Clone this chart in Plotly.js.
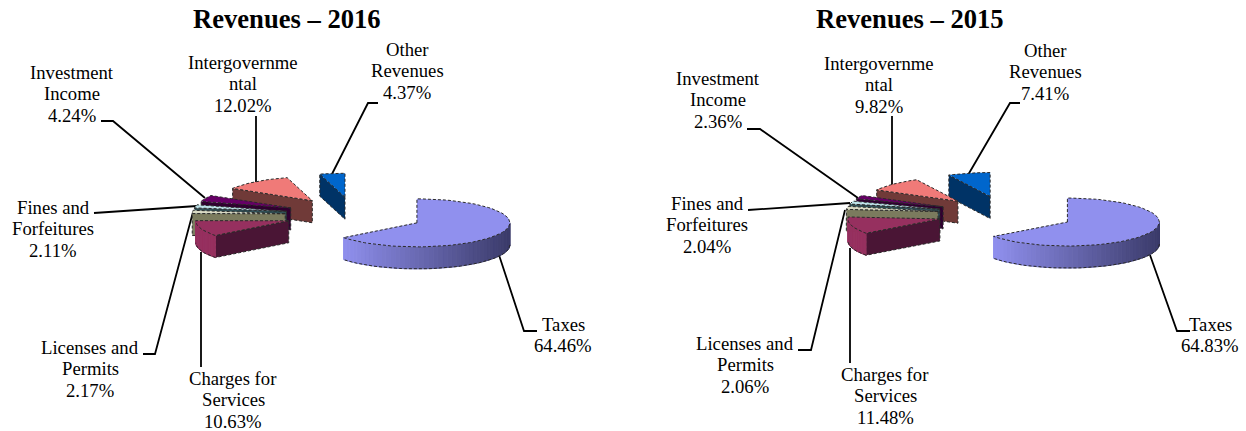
<!DOCTYPE html>
<html><head><meta charset="utf-8">
<script src="https://cdn.plot.ly/plotly-3.0.1.min.js"></script>
<style>html,body{margin:0;padding:0;background:#fff}#c{width:1246px;height:431px}</style>
</head><body><div id="c"></div>
<script>
const categories=["Taxes","Charges for Services","Licenses and Permits","Fines and Forfeitures","Investment Income","Intergovernmental","Other Revenues"];
const values2016=[64.46,10.63,2.17,2.11,4.24,12.02,4.37];
const values2015=[64.83,11.48,2.06,2.04,2.36,9.82,7.41];
const labelLines=[["Taxes"],["Charges for","Services"],["Licenses and","Permits"],["Fines and","Forfeitures"],["Investment","Income"],["Intergovernme","ntal"],["Other","Revenues"]];
const titles=["Revenues – 2016","Revenues – 2015"];

// styles
const topColors=["#9090EE","#96305F","#DADAC4","#BFE4EA","#660066","#F07A78","#0066CC"];
const cutColors=["#3C3C6E","#4A1535","#7B7B5E","#2F4F55","#300030","#703A38","#003366"];
const darkWall=[58,58,105];
const paintOrder=[6,5,4,3,2,1,0];
const charts=[
 {values:values2016,cx:354.5,cy:215,rx:93,ry:24,
  labelX:[563,233,90,53,72,243,407],labelY:[324,378,347,207,72,62,49],
  leaders:[[[537,331],[524,331],[499,255]],[[201,367],[201,252]],[[143,354],[155,354],[193,212]],[[94,213],[197,206]],[[101,121],[113,121],[205,198]],[[256,116],[256,183]],[[378,103],[368,103],[332,174]]],
  titleX:286.5,titleY:19},
 {values:values2015,cx:1006,cy:214,rx:92,ry:24,
  labelX:[1210,885,745,707,718,879,1045],labelY:[324,374,343,203,78,63,50],
  leaders:[[[1190,331],[1177,331],[1150,255]],[[850,363],[850,248]],[[798,350],[811,350],[845,210]],[[748,210],[850,203]],[[747,129],[760,129],[858,198]],[[892,116],[892,185]],[[1020,103],[1010,103],[968,175]]],
  titleX:909.5,titleY:19}
];
const depth=22, explode=0.747, lineGap=21.6;
const edge={color:"#2a2a2a",width:1,dash:"3px,2px"};
const traces=[],annotations=[];
const rad=d=>d*Math.PI/180;
function poly(xs,ys,fill,line){
  traces.push({type:"scatter",mode:"lines",x:[...xs,xs[0]],y:[...ys,ys[0]],fill:"toself",fillcolor:fill,line:line,hoverinfo:"skip",showlegend:false});
}
function open(xs,ys,line){
  traces.push({type:"scatter",mode:"lines",x:xs,y:ys,line:line,hoverinfo:"skip",showlegend:false});
}
function hex(c){return [1,3,5].map(i=>parseInt(c.substr(i,2),16));}
function mix(a,b,t){return "rgb("+a.map((v,i)=>Math.round(v+(b[i]-v)*t)).join(",")+")";}

charts.forEach(ch=>{
  // leader lines under the slices
  ch.leaders.forEach(p=>open(p.map(q=>q[0]),p.map(q=>q[1]),{color:"#000",width:1.8}));
  let acc=0;
  const slices=ch.values.map((v,i)=>{const a0=acc*3.6;acc+=v;return {i,a0,a1:acc*3.6};});
  paintOrder.forEach(i=>{
    const s=slices[i],mid=(s.a0+s.a1)/2;
    const ax=ch.cx+explode*ch.rx*Math.sin(rad(mid));
    const ay=ch.cy-explode*ch.ry*Math.cos(rad(mid));
    const px=a=>ax+ch.rx*Math.sin(rad(a));
    const py=a=>ay-ch.ry*Math.cos(rad(a));
    // radial cut faces
    if(Math.sin(rad(s.a0))<-1e-6){
      poly([ax,px(s.a0),px(s.a0),ax],[ay,py(s.a0),py(s.a0)+depth,ay+depth],cutColors[i],edge);
    }
    if(Math.sin(rad(s.a1))>1e-6){
      poly([ax,px(s.a1),px(s.a1),ax],[ay,py(s.a1),py(s.a1)+depth,ay+depth],cutColors[i],edge);
    }
    // outer wall, front half only
    const w0=Math.max(s.a0,90),w1=Math.min(s.a1,270);
    if(w1>w0){
      const n=Math.max(2,Math.ceil((w1-w0)/3));
      const base=hex(topColors[i]);
      const bx=[],by=[];
      for(let k=0;k<n;k++){
        const a=w0+(w1-w0)*k/n,b=w0+(w1-w0)*(k+1)/n,t=Math.min(1,Math.max(0,(Math.sin(rad((a+b)/2))+0.8)/1.8));
        const col=mix(base,darkWall.map((v,j)=>i===0?v:base[j]*0.5),t);
        poly([px(a),px(b),px(b),px(a)],[py(a),py(b),py(b)+depth,py(a)+depth],col,{color:col,width:1});
      }
      for(let k=0;k<=n;k++){const a=w0+(w1-w0)*k/n;bx.push(px(a));by.push(py(a)+depth);}
      open(bx,by,edge);
    }
    // top face
    const n=Math.max(4,Math.ceil((s.a1-s.a0)/3)),tx=[ax],ty=[ay];
    for(let k=0;k<=n;k++){const a=s.a0+(s.a1-s.a0)*k/n;tx.push(px(a));ty.push(py(a));}
    poly(tx,ty,topColors[i],edge);
  });
  // labels
  ch.values.forEach((v,i)=>{
    [...labelLines[i],v.toFixed(2)+"%"].forEach((t,j)=>{
      annotations.push({xref:"x",yref:"y",x:ch.labelX[i],y:ch.labelY[i]+j*lineGap,text:t,showarrow:false,xanchor:"center",yanchor:"middle",
        font:{family:"Liberation Serif",size:18.7,color:"#000"}});
    });
  });
});
charts.forEach((ch,k)=>annotations.push({xref:"x",yref:"y",x:ch.titleX,y:ch.titleY,text:"<b>"+titles[k]+"</b>",showarrow:false,xanchor:"center",yanchor:"middle",
  font:{family:"Liberation Serif",size:26.6,color:"#000"}}));

Plotly.newPlot("c",traces,{
  width:1246,height:431,margin:{l:0,r:0,t:0,b:0},paper_bgcolor:"#fff",plot_bgcolor:"#fff",showlegend:false,
  xaxis:{range:[0,1246],visible:false,fixedrange:true},
  yaxis:{range:[431,0],visible:false,fixedrange:true},
  annotations:annotations
},{displayModeBar:false,staticPlot:true});
</script></body></html>
